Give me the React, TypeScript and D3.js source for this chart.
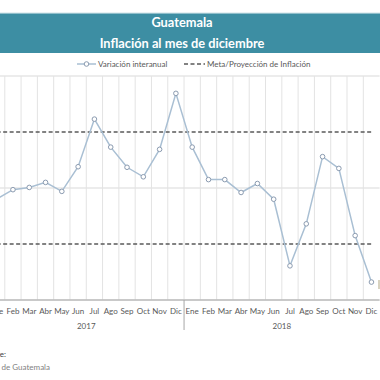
import React from "react";
import * as d3 from "d3";

const months = ["Ene","Feb","Mar","Abr","May","Jun","Jul","Ago","Sep","Oct","Nov","Dic"];
const years = ["2017", "2018"];
const inflation2017 = [3.80, 3.97, 4.01, 4.10, 3.94, 4.38, 5.23, 4.73, 4.37, 4.20, 4.69, 5.69];
const inflation2018 = [4.73, 4.15, 4.15, 3.92, 4.08, 3.80, 2.61, 3.36, 4.56, 4.35, 3.15, 2.32];
const metaUpper = 5;
const metaLower = 3;
const yTicks = [2, 4, 6];

const W = 380, H = 380;
const plotLeft = -11.5, plotRight = 379.6, plotTop = 76, plotBottom = 300;

export default function App() {
  const cats = years.flatMap((y) => months.map((m) => `${m}-${y}`));
  const values = [...inflation2017, ...inflation2018];
  const x = d3.scaleBand<string>().domain(cats).range([plotLeft, plotRight]).padding(0);
  const y = d3.scaleLinear().domain([2, 6]).range([plotBottom, plotTop]);
  const cx = (c: string) => (x(c) as number) + x.bandwidth() / 2;
  const line = d3.line<number>().x((_, i) => cx(cats[i])).y((d) => y(d));
  const first = cx(cats[0]), last = cx(cats[cats.length - 1]);
  const font = "Lato, 'Open Sans', sans-serif";
  return (
    <svg width={W} height={H} style={{ position: "absolute", left: 0, top: 0, background: "#fff" }} fontFamily={font}>
      <rect x={0} y={12.5} width={W} height={1} fill="#cfe3e8" />
      <rect x={0} y={13.5} width={W} height={39.5} fill="#3d8ea3" />
      <text x={182} y={26.5} textAnchor="middle" fill="#fff" fontWeight="bold" fontSize={12.8}>Guatemala</text>
      <text x={182} y={47.5} textAnchor="middle" fill="#fff" fontWeight="bold" fontSize={12.8}>Inflación al mes de diciembre</text>
      {/* legend */}
      <line x1={77} x2={96} y1={64} y2={64} stroke="#a9bfd3" strokeWidth={1.5} />
      <circle cx={86.5} cy={64} r={2.3} fill="#fff" stroke="#8b9bb0" strokeWidth={1} />
      <text x={98} y={66.8} fontSize={8} fill="#595959">Variación interanual</text>
      <line x1={184} x2={205} y1={64} y2={64} stroke="#595959" strokeWidth={1.6} strokeDasharray="4,2.5" />
      <text x={207} y={66.8} fontSize={8} fill="#595959">Meta/Proyección de Inflación</text>
      {/* gridlines */}
      {yTicks.map((t) => (
        <line key={t} x1={plotLeft} x2={plotRight} y1={y(t)} y2={y(t)} stroke="#d9d9d9" strokeWidth={1} />
      ))}
      {cats.slice(1).map((c) => (
        <line key={c} x1={x(c)} x2={x(c)} y1={plotTop} y2={plotBottom} stroke="#e3e3e3" strokeWidth={1} />
      ))}
      {/* meta lines */}
      {[metaUpper, metaLower].map((m) => (
        <line key={m} x1={first} x2={last} y1={y(m)} y2={y(m)} stroke="#595959" strokeWidth={1.7} strokeDasharray="4,2.5" />
      ))}
      {/* axis */}
      <line x1={plotLeft} x2={plotRight} y1={plotBottom} y2={plotBottom} stroke="#a6a6a6" strokeWidth={1} />
      <line x1={x(cats[12])} x2={x(cats[12])} y1={plotBottom} y2={330} stroke="#a6a6a6" strokeWidth={1} />
      {cats.map((c, i) => (
        <text key={c} x={cx(c)} y={314} textAnchor="middle" fontSize={8} fill="#595959">{months[i % 12]}</text>
      ))}
      {years.map((yr, i) => {
        const x0 = x(cats[i * 12]) as number;
        const x1 = (x(cats[i * 12 + 11]) as number) + x.bandwidth();
        return <text key={yr} x={(x0 + x1) / 2} y={329} textAnchor="middle" fontSize={8} fill="#595959">{yr}</text>;
      })}
      {/* series */}
      <path d={line(values) || ""} fill="none" stroke="#a9bfd3" strokeWidth={1.5} />
      {values.map((v, i) => (
        <circle key={i} cx={cx(cats[i])} cy={y(v)} r={2.3} fill="#fff" stroke="#8b9bb0" strokeWidth={1} />
      ))}
      <rect x={378} y={280} width={4} height={9} fill="#d8d3c0" />
      {/* source */}
      <text x={6} y={357} textAnchor="end" fontSize={8} fill="#404040">Fuente:</text>
      <text x={50} y={370} textAnchor="end" fontSize={8} fill="#7f7f7f">Banco de Guatemala</text>
    </svg>
  );
}
